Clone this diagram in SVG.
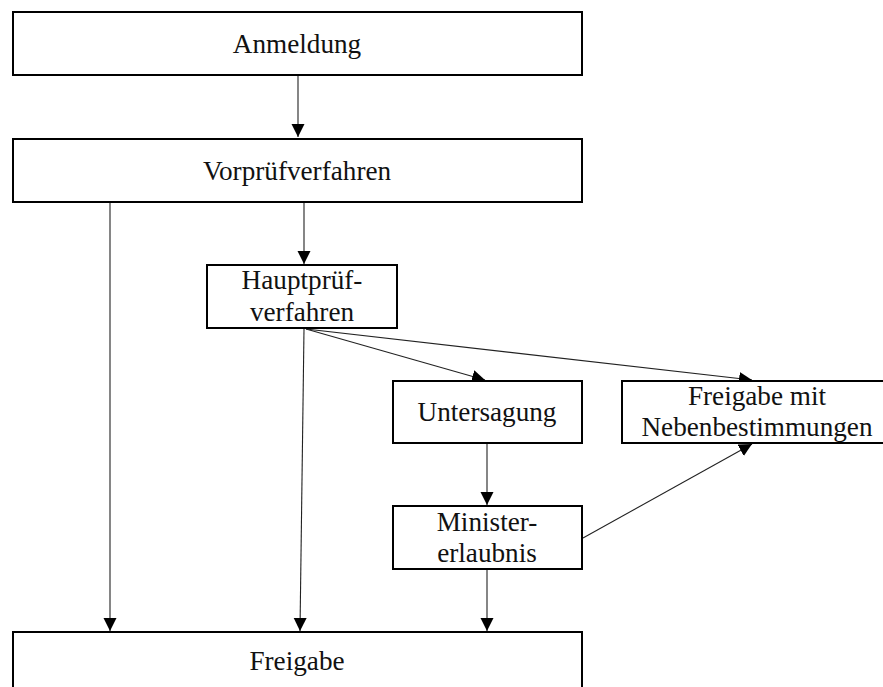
<svg xmlns="http://www.w3.org/2000/svg" width="883" height="687" viewBox="0 0 883 687">
<style>
.box{fill:#fff;stroke:#000;stroke-width:2}
text{font-family:'Liberation Serif','Times New Roman',Tinos,'DejaVu Serif',serif;font-size:27.2px;fill:#111;text-anchor:middle}
.c{fill:none;stroke:#222;stroke-width:1.1;marker-end:url(#ah)}
</style>
<defs>
<marker id="ah" markerUnits="userSpaceOnUse" markerWidth="14" markerHeight="14" viewBox="0 0 14 14" refX="13" refY="6.5" orient="auto">
<path d="M0,0 L13,6.5 L0,13 Z" fill="#000"/>
</marker>
</defs>
<g id="connectors">
<line class="c" x1="298" y1="76" x2="298" y2="137"/>
<line class="c" x1="110" y1="203" x2="110" y2="631"/>
<line class="c" x1="304" y1="203" x2="304" y2="264"/>
<line class="c" x1="304" y1="329" x2="300" y2="631"/>
<line class="c" x1="306" y1="329" x2="485" y2="380"/>
<line class="c" x1="306" y1="329" x2="752" y2="380"/>
<line class="c" x1="487" y1="444" x2="487" y2="505"/>
<line class="c" x1="487" y1="570" x2="487" y2="631"/>
<line class="c" x1="583" y1="538" x2="752" y2="444"/>
</g>
<g id="anmeldung"><rect class="box" x="13" y="12" width="569" height="63"/><text x="297" y="53">Anmeldung</text></g>
<g id="vorpruef"><rect class="box" x="13" y="139" width="569" height="63"/><text x="297" y="180">Vorprüfverfahren</text></g>
<g id="hauptpruef"><rect class="box" x="207" y="265" width="190" height="63"/><text x="302" y="289">Hauptprüf-</text><text x="302" y="321">verfahren</text></g>
<g id="untersagung"><rect class="box" x="393" y="381" width="189" height="62"/><text x="487" y="421">Untersagung</text></g>
<g id="freigabe-mit"><rect class="box" x="622" y="381" width="270" height="62"/><text x="757" y="405">Freigabe mit</text><text x="757" y="436">Nebenbestimmungen</text></g>
<g id="ministererlaubnis"><rect class="box" x="393" y="506" width="189" height="63"/><text x="487" y="531">Minister-</text><text x="487" y="562">erlaubnis</text></g>
<g id="freigabe"><rect class="box" x="13" y="632" width="569" height="70"/><text x="297" y="670">Freigabe</text></g>
</svg>
